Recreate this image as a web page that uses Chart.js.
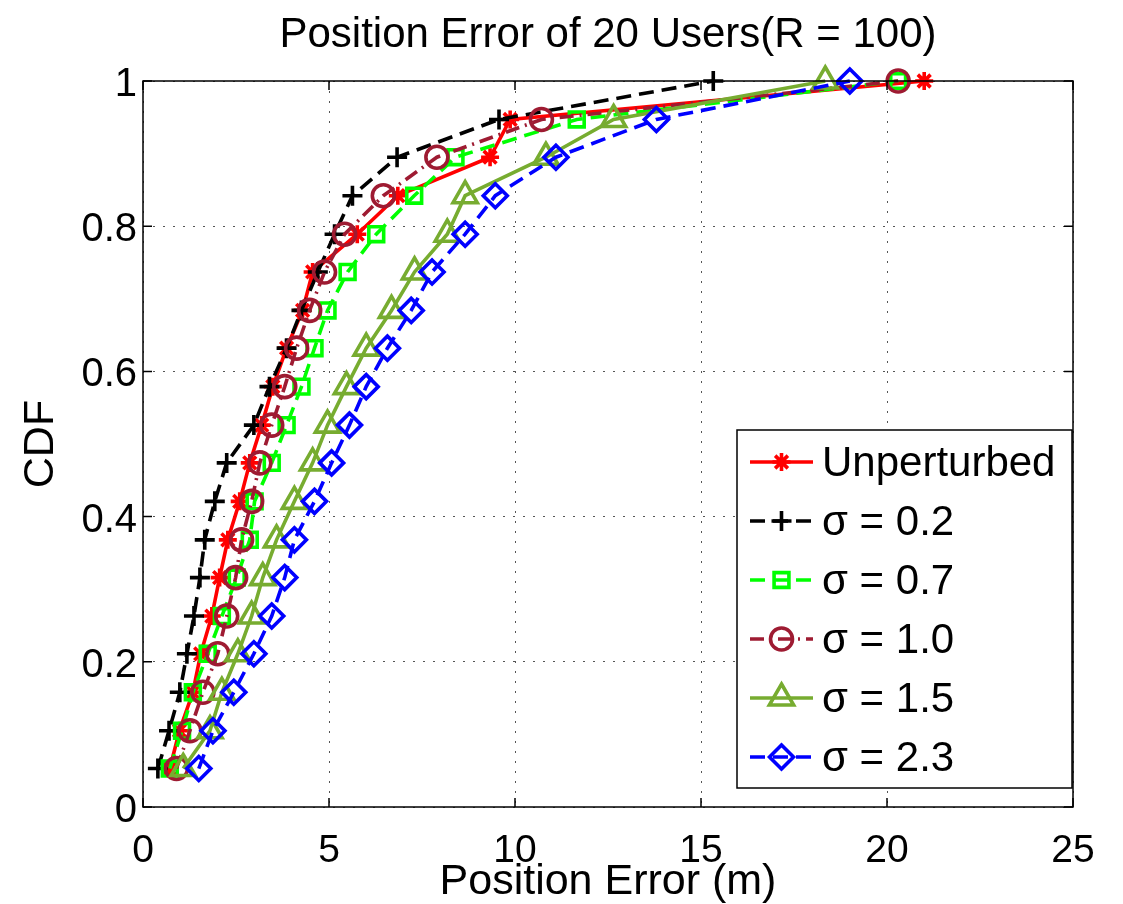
<!DOCTYPE html>
<html>
<head>
<meta charset="utf-8">
<title>Position Error of 20 Users</title>
<script src="https://cdn.jsdelivr.net/npm/chart.js@4.4.1/dist/chart.umd.min.js"></script>
<style>
  html, body { margin: 0; padding: 0; background: #fff; }
  #wrap { width: 1123px; height: 904px; }
</style>
</head>
<body>
<div id="wrap"><canvas id="cdfChart" width="1123" height="904"></canvas></div>
<script>
// CDF levels of the 19 sorted error samples
const cdfLevels = [0.053, 0.105, 0.158, 0.211, 0.263, 0.316, 0.368, 0.421, 0.474, 0.526,
                   0.579, 0.632, 0.684, 0.737, 0.789, 0.842, 0.895, 0.947, 1];

// position error (m) per series
const errUnperturbed = [0.72, 0.98, 1.34, 1.55, 1.85, 2.06, 2.28, 2.60, 2.87, 3.19,
                        3.49, 3.86, 4.29, 4.56, 5.76, 6.85, 9.33, 9.87, 21.0];
const errSigma02 = [0.40, 0.70, 0.99, 1.18, 1.37, 1.53, 1.66, 1.93, 2.25, 2.98,
                    3.40, 3.86, 4.26, 4.70, 5.15, 5.63, 6.83, 9.57, 15.33];
const errSigma07 = [0.72, 1.05, 1.34, 1.74, 2.12, 2.52, 2.87, 3.00, 3.46, 3.86,
                    4.26, 4.61, 4.96, 5.50, 6.27, 7.29, 8.40, 11.66, 20.3];
const errSigma10 = [0.90, 1.26, 1.61, 2.01, 2.25, 2.49, 2.65, 2.92, 3.14, 3.46,
                    3.81, 4.13, 4.48, 4.88, 5.42, 6.46, 7.90, 10.71, 20.3];
const errSigma15 = [1.08, 1.80, 2.12, 2.55, 2.92, 3.22, 3.59, 4.07, 4.56, 4.96,
                    5.47, 6.00, 6.68, 7.30, 8.18, 8.66, 10.83, 12.65, 18.34];
const errSigma23 = [1.50, 1.88, 2.44, 2.98, 3.46, 3.81, 4.07, 4.61, 5.07, 5.55,
                    6.00, 6.57, 7.21, 7.77, 8.66, 9.47, 11.10, 13.80, 19.0];

const seriesLabels = ['Unperturbed', 'σ = 0.2', 'σ = 0.7', 'σ = 1.0', 'σ = 1.5', 'σ = 2.3'];
const seriesValues = [errUnperturbed, errSigma02, errSigma07, errSigma10, errSigma15, errSigma23];

const xTicks = [0, 5, 10, 15, 20, 25];
const yTicks = [0, 0.2, 0.4, 0.6, 0.8, 1];

const FONT = '"Liberation Sans", Arial, Helvetica, sans-serif';

// matlab-ish line styles
const styles = [
  { color: '#ff0000', dash: [],            marker: 'star',     r: 9 },
  { color: '#000000', dash: [15, 8],       marker: 'cross',    r: 10 },
  { color: '#00ff00', dash: [15, 8],       marker: 'rect',     r: 10.5 },
  { color: '#9e1b32', dash: [14, 6, 2, 6], marker: 'circle',   r: 11 },
  { color: '#77ac30', dash: [],            marker: 'triangle', r: 14 },
  { color: '#0000ff', dash: [15, 8],       marker: 'rectRot',  r: 12 }
];

const datasets = seriesValues.map((vals, i) => ({
  label: seriesLabels[i],
  data: vals.map((x, k) => ({ x: x, y: cdfLevels[k] })),
  borderColor: styles[i].color,
  borderWidth: 3.6,
  borderDash: styles[i].dash,
  pointStyle: styles[i].marker,
  pointRadius: styles[i].r,
  pointBorderWidth: 3.6,
  pointBorderColor: styles[i].color,
  pointBackgroundColor: 'rgba(0,0,0,0)',
  fill: false,
  tension: 0,
  clip: false,
  order: seriesValues.length - i   // later series on top, like matlab
}));

// box frame with inward tick marks
const frameTicks = {
  id: 'frameTicks',
  afterDatasetsDraw(chart) {
    const { ctx, chartArea: a, scales } = chart;
    ctx.save();
    ctx.strokeStyle = '#000';
    ctx.lineWidth = 1.5;
    ctx.setLineDash([]);
    ctx.beginPath();
    scales.x.ticks.forEach(t => {
      const px = scales.x.getPixelForValue(t.value);
      ctx.moveTo(px, a.bottom); ctx.lineTo(px, a.bottom - 9);
      ctx.moveTo(px, a.top); ctx.lineTo(px, a.top + 9);
    });
    scales.y.ticks.forEach(t => {
      const py = scales.y.getPixelForValue(t.value);
      ctx.moveTo(a.left, py); ctx.lineTo(a.left + 9, py);
      ctx.moveTo(a.right, py); ctx.lineTo(a.right - 9, py);
    });
    ctx.stroke();
    ctx.strokeRect(a.left, a.top, a.right - a.left, a.bottom - a.top);
    ctx.restore();
  }
};

// legend box in the lower right corner of the axes
const boxLegend = {
  id: 'boxLegend',
  afterDraw(chart) {
    const { ctx, chartArea: a } = chart;
    const w = 335, h = 358;
    const left = a.right - 1 - w, top = a.bottom - 19 - h;
    ctx.save();
    ctx.fillStyle = '#fff';
    ctx.fillRect(left, top, w, h);
    ctx.lineWidth = 1.5;
    ctx.strokeStyle = '#000';
    ctx.strokeRect(left, top, w, h);
    chart.data.datasets.forEach((ds, i) => {
      const y = top + 32 + i * 59;
      const x0 = left + 13, x1 = left + 76, xm = (x0 + x1) / 2;
      ctx.save();
      ctx.strokeStyle = ds.borderColor;
      ctx.lineWidth = ds.borderWidth;
      ctx.setLineDash(ds.borderDash);
      ctx.beginPath();
      ctx.moveTo(x0, y); ctx.lineTo(x1, y);
      ctx.stroke();
      ctx.setLineDash([]);
      ctx.strokeStyle = ds.pointBorderColor;
      ctx.fillStyle = 'rgba(0,0,0,0)';
      ctx.lineWidth = ds.pointBorderWidth;
      Chart.helpers.drawPoint(ctx, {
        pointStyle: ds.pointStyle, radius: ds.pointRadius,
        rotation: 0, borderWidth: ds.pointBorderWidth
      }, xm, y);
      ctx.restore();
      ctx.fillStyle = '#000';
      ctx.font = '42px ' + FONT;
      ctx.textBaseline = 'middle';
      ctx.textAlign = 'left';
      ctx.fillText(ds.label, left + 85, y + 2);
    });
    ctx.restore();
  }
};

const gridStyle = { color: '#555', lineWidth: 1, drawTicks: false };
const gridBorder = { display: false, dash: [2, 8] };

new Chart(document.getElementById('cdfChart'), {
  type: 'line',
  data: { datasets: datasets },
  options: {
    responsive: false,
    animation: false,
    events: [],
    layout: { padding: { left: 0, right: 50, top: 0, bottom: 0 } },
    scales: {
      x: {
        type: 'linear',
        position: 'bottom',
        min: xTicks[0],
        max: xTicks[xTicks.length - 1],
        afterBuildTicks: s => { s.ticks = xTicks.map(v => ({ value: v })); },
        afterFit: s => { s.height = 97; },
        grid: gridStyle,
        border: gridBorder,
        ticks: {
          color: '#000', padding: 21, maxRotation: 0, autoSkip: false,
          font: { family: FONT, size: 39 },
          callback: v => String(v)
        },
        title: {
          display: true, text: 'Position Error (m)', color: '#000',
          font: { family: FONT, size: 43, lineHeight: 1 },
          padding: { top: 0, bottom: 0 }
        }
      },
      xTop: {
        type: 'linear',
        position: 'top',
        min: xTicks[0],
        max: xTicks[xTicks.length - 1],
        afterFit: s => { s.height = 81; },
        grid: { display: false },
        border: { display: false },
        ticks: { display: false },
        title: {
          display: true, text: 'Position Error of 20 Users(R = 100)', color: '#000',
          font: { family: FONT, size: 42 },
          padding: { top: 10, bottom: 0 }
        }
      },
      y: {
        type: 'linear',
        min: yTicks[0],
        max: yTicks[yTicks.length - 1],
        afterBuildTicks: s => { s.ticks = yTicks.map(v => ({ value: v })); },
        afterFit: s => { s.width = 143; },
        grid: gridStyle,
        border: gridBorder,
        ticks: {
          color: '#000', padding: 6, labelOffset: 4, autoSkip: false,
          font: { family: FONT, size: 40 },
          callback: v => String(v)
        },
        title: {
          display: true, text: 'CDF', color: '#000',
          font: { family: FONT, size: 43 },
          padding: { top: 15, bottom: 0 }
        }
      }
    },
    plugins: {
      legend: { display: false },
      tooltip: { enabled: false },
      title: { display: false }
    }
  },
  plugins: [frameTicks, boxLegend]
});
</script>
</body>
</html>
